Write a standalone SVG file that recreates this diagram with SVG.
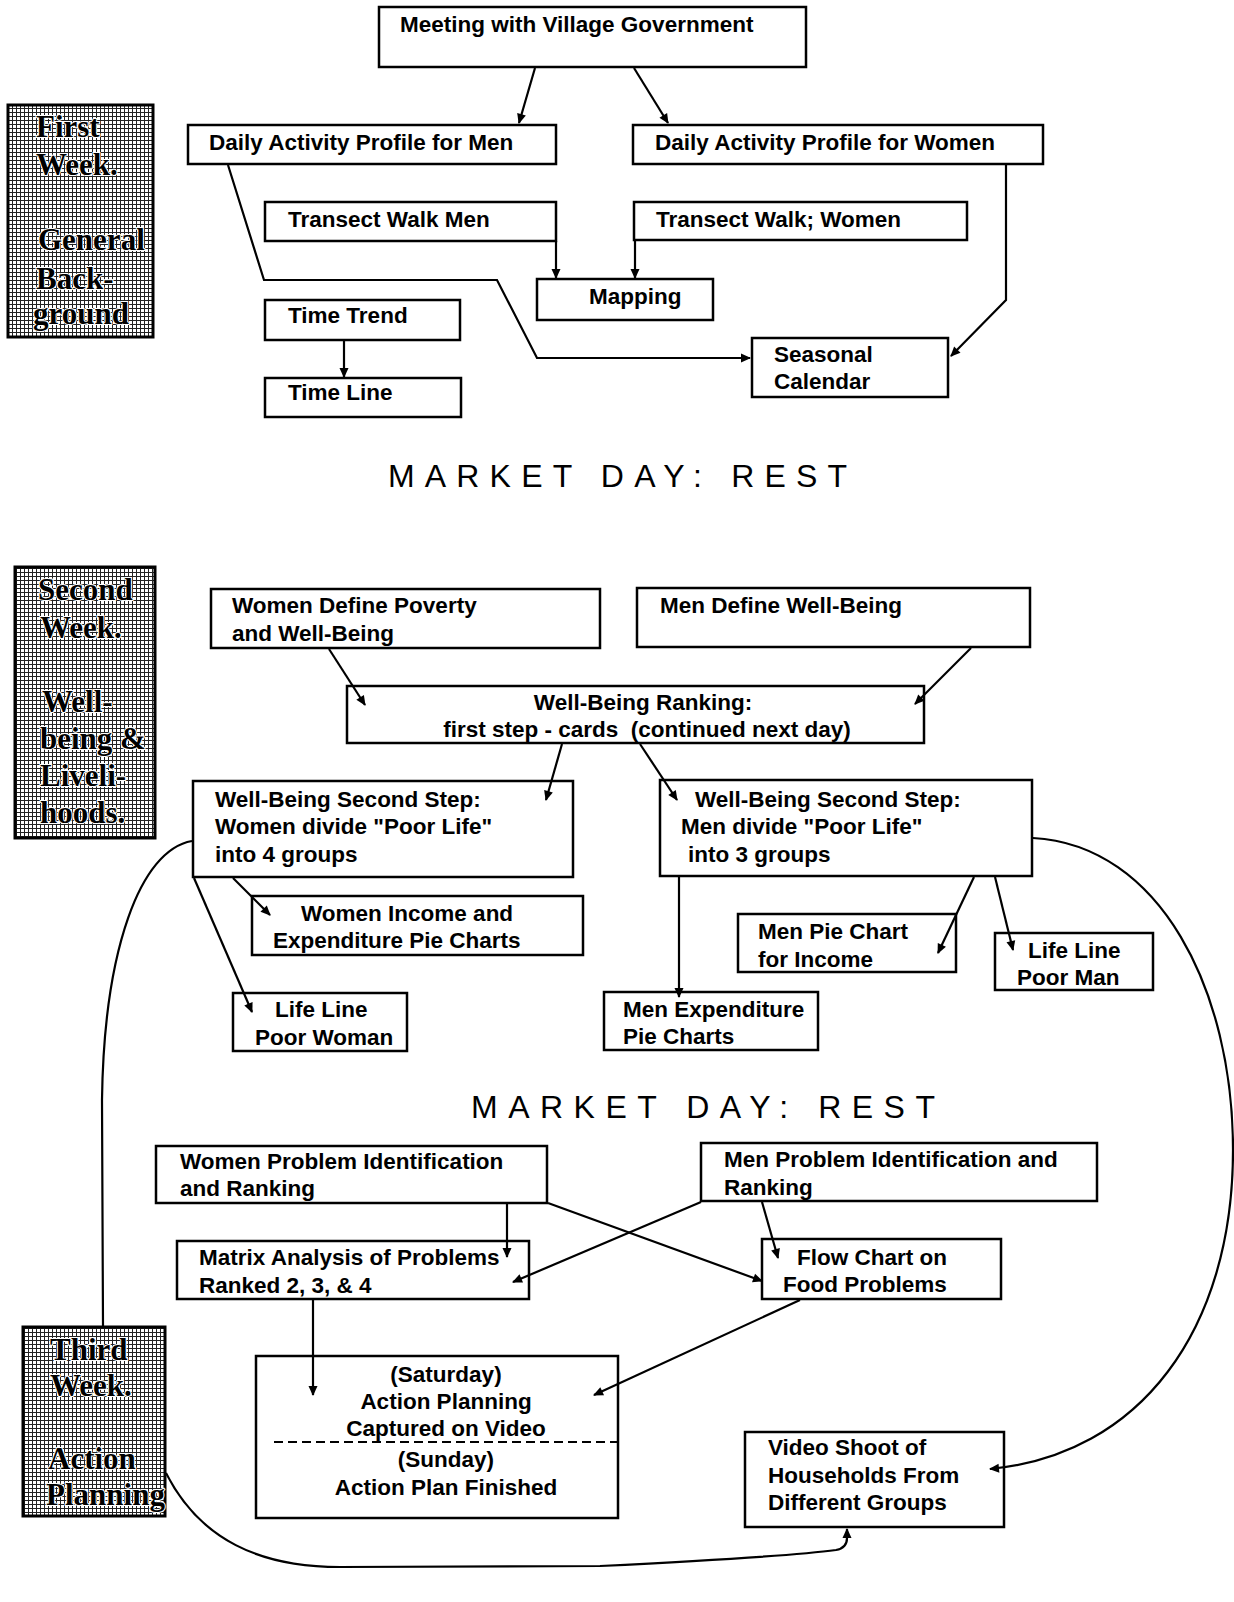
<svg xmlns="http://www.w3.org/2000/svg" width="1234" height="1602" viewBox="0 0 1234 1602">
  <defs>
    <style>
      .box { fill: #fff; stroke: #000; stroke-width: 2.5; }
      .t { font-family: "Liberation Sans", Arial, sans-serif; font-size: 22.5px; font-weight: bold; fill: #000; }
      .mid { text-anchor: middle; }
      .wk { fill: url(#dither); stroke: #000; stroke-width: 3; }
      .wt { font-family: "Liberation Serif", "Times New Roman", serif; font-size: 31px; font-weight: bold; fill: #000; stroke: #fff; stroke-width: 2; paint-order: stroke fill; }
      .rest { font-family: "Liberation Sans", Arial, sans-serif; font-size: 32px; fill: #000; }
      .c { fill: none; stroke: #000; stroke-width: 2.2; }
      .a { marker-end: url(#ah); }
    </style>
    <!-- halftone grid used for the week panels -->
    <pattern id="dither" width="4" height="4" patternUnits="userSpaceOnUse">
      <rect width="4" height="4" fill="#fff"/>
      <rect width="4" height="1" fill="#222" shape-rendering="crispEdges"/>
      <rect width="1" height="4" fill="#222" shape-rendering="crispEdges"/>
    </pattern>
    <marker id="ah" viewBox="0 0 10 10" refX="9" refY="5" markerWidth="12" markerHeight="10" markerUnits="userSpaceOnUse" orient="auto">
      <path d="M0,0.5 L10,5 L0,9.5 z" fill="#000"/>
    </marker>
  </defs>

  <!-- week labels -->
  <g id="week1">
    <rect class="wk" x="8" y="105" width="145" height="232"/>
    <text class="wt" x="36" y="137">First</text>
    <text class="wt" x="36" y="175">Week.</text>
    <text class="wt" x="38" y="250">General</text>
    <text class="wt" x="36" y="289">Back-</text>
    <text class="wt" x="33" y="324">ground</text>
  </g>
  <g id="week2">
    <rect class="wk" x="15" y="567" width="140" height="271"/>
    <text class="wt" x="38" y="600">Second</text>
    <text class="wt" x="40" y="638">Week.</text>
    <text class="wt" x="42" y="712">Well-</text>
    <text class="wt" x="40" y="749">being &amp;</text>
    <text class="wt" x="40" y="786">Liveli-</text>
    <text class="wt" x="40" y="823">hoods.</text>
  </g>
  <g id="week3">
    <rect class="wk" x="23" y="1327" width="142" height="189"/>
    <text class="wt" x="50" y="1360">Third</text>
    <text class="wt" x="50" y="1396">Week.</text>
    <text class="wt" x="48" y="1469">Action</text>
    <text class="wt" x="46" y="1505">Planning</text>
  </g>

  <!-- first week -->
  <g id="meeting">
    <rect class="box" x="379" y="7" width="427" height="60"/>
    <text class="t" x="400" y="32">Meeting with Village Government</text>
  </g>
  <g id="daily-men">
    <rect class="box" x="188" y="125" width="368" height="39"/>
    <text class="t" x="209" y="150">Daily Activity Profile for Men</text>
  </g>
  <g id="daily-women">
    <rect class="box" x="633" y="125" width="410" height="39"/>
    <text class="t" x="655" y="150">Daily Activity Profile for Women</text>
  </g>
  <g id="transect-men">
    <rect class="box" x="265" y="202" width="291" height="39"/>
    <text class="t" x="288" y="227">Transect Walk Men</text>
  </g>
  <g id="transect-women">
    <rect class="box" x="634" y="202" width="333" height="38"/>
    <text class="t" x="656" y="227">Transect Walk; Women</text>
  </g>
  <g id="mapping">
    <rect class="box" x="537" y="279" width="176" height="41"/>
    <text class="t" x="589" y="304">Mapping</text>
  </g>
  <g id="time-trend">
    <rect class="box" x="265" y="300" width="195" height="40"/>
    <text class="t" x="288" y="323">Time Trend</text>
  </g>
  <g id="time-line">
    <rect class="box" x="265" y="378" width="196" height="39"/>
    <text class="t" x="288" y="400">Time Line</text>
  </g>
  <g id="seasonal">
    <rect class="box" x="752" y="338" width="196" height="59"/>
    <text class="t" x="774" y="362">Seasonal</text>
    <text class="t" x="774" y="389">Calendar</text>
  </g>

  <text class="rest" x="388" y="487" textLength="459" lengthAdjust="spacing">MARKET DAY:  REST</text>

  <!-- second week -->
  <g id="women-define">
    <rect class="box" x="211" y="589" width="389" height="59"/>
    <text class="t" x="232" y="613">Women Define Poverty</text>
    <text class="t" x="232" y="641">and Well-Being</text>
  </g>
  <g id="men-define">
    <rect class="box" x="637" y="588" width="393" height="59"/>
    <text class="t" x="660" y="613">Men Define Well-Being</text>
  </g>
  <g id="ranking">
    <rect class="box" x="347" y="686" width="577" height="57"/>
    <text class="t mid" x="643" y="710">Well-Being Ranking:</text>
    <text class="t mid" x="647" y="737" xml:space="preserve">first step - cards  (continued next day)</text>
  </g>
  <g id="women-step2">
    <rect class="box" x="193" y="781" width="380" height="96"/>
    <text class="t" x="215" y="807">Well-Being Second Step:</text>
    <text class="t" x="215" y="834">Women divide "Poor Life"</text>
    <text class="t" x="215" y="862">into 4 groups</text>
  </g>
  <g id="men-step2">
    <rect class="box" x="660" y="780" width="372" height="96"/>
    <text class="t" x="695" y="807">Well-Being Second Step:</text>
    <text class="t" x="681" y="834">Men divide "Poor Life"</text>
    <text class="t" x="688" y="862">into 3 groups</text>
  </g>
  <g id="women-pie">
    <rect class="box" x="252" y="896" width="331" height="59"/>
    <text class="t" x="301" y="921">Women Income and</text>
    <text class="t" x="273" y="948">Expenditure Pie Charts</text>
  </g>
  <g id="lifeline-woman">
    <rect class="box" x="233" y="993" width="174" height="58"/>
    <text class="t" x="275" y="1017">Life Line</text>
    <text class="t" x="255" y="1045">Poor Woman</text>
  </g>
  <g id="men-pie-income">
    <rect class="box" x="738" y="914" width="218" height="58"/>
    <text class="t" x="758" y="939">Men Pie Chart</text>
    <text class="t" x="758" y="967">for Income</text>
  </g>
  <g id="men-expenditure">
    <rect class="box" x="604" y="992" width="214" height="58"/>
    <text class="t" x="623" y="1017">Men Expenditure</text>
    <text class="t" x="623" y="1044">Pie Charts</text>
  </g>
  <g id="lifeline-man">
    <rect class="box" x="995" y="933" width="158" height="57"/>
    <text class="t" x="1028" y="958">Life Line</text>
    <text class="t" x="1017" y="985">Poor Man</text>
  </g>

  <text class="rest" x="471" y="1118" textLength="464" lengthAdjust="spacing">MARKET DAY:  REST</text>

  <!-- third week -->
  <g id="women-problems">
    <rect class="box" x="156" y="1146" width="391" height="57"/>
    <text class="t" x="180" y="1169">Women Problem Identification</text>
    <text class="t" x="180" y="1196">and Ranking</text>
  </g>
  <g id="men-problems">
    <rect class="box" x="701" y="1143" width="396" height="58"/>
    <text class="t" x="724" y="1167">Men Problem Identification and</text>
    <text class="t" x="724" y="1195">Ranking</text>
  </g>
  <g id="matrix">
    <rect class="box" x="177" y="1241" width="352" height="58"/>
    <text class="t" x="199" y="1265">Matrix Analysis of Problems</text>
    <text class="t" x="199" y="1293">Ranked 2, 3, &amp; 4</text>
  </g>
  <g id="flow-chart">
    <rect class="box" x="762" y="1239" width="239" height="60"/>
    <text class="t" x="797" y="1265">Flow Chart on</text>
    <text class="t" x="783" y="1292">Food Problems</text>
  </g>
  <g id="action-planning">
    <rect class="box" x="256" y="1356" width="362" height="162"/>
    <text class="t mid" x="446" y="1382">(Saturday)</text>
    <text class="t mid" x="446" y="1409">Action Planning</text>
    <text class="t mid" x="446" y="1436">Captured on Video</text>
    <line x1="274" y1="1442" x2="617" y2="1442" stroke="#000" stroke-width="2.2" stroke-dasharray="9,5"/>
    <text class="t mid" x="446" y="1467">(Sunday)</text>
    <text class="t mid" x="446" y="1495">Action Plan Finished</text>
  </g>
  <g id="video-shoot">
    <rect class="box" x="745" y="1432" width="259" height="95"/>
    <text class="t" x="768" y="1455">Video Shoot of</text>
    <text class="t" x="768" y="1483">Households From</text>
    <text class="t" x="768" y="1510">Different Groups</text>
  </g>

  <!-- connectors -->
  <g id="connectors">
    <path class="c a" d="M535,68 L519,123"/>
    <path class="c a" d="M634,68 L668,123"/>
    <path class="c a" d="M228,165 L264,280 L497,280 L537,358 L750,358"/>
    <path class="c a" d="M1006,164 L1006,300 L951,356"/>
    <path class="c a" d="M556,241 L556,278"/>
    <path class="c a" d="M635,240 L635,278"/>
    <path class="c a" d="M344,340 L344,377"/>

    <path class="c a" d="M329,649 L365,705"/>
    <path class="c a" d="M971,648 L915,704"/>
    <path class="c a" d="M562,744 L546,800"/>
    <path class="c a" d="M640,744 L677,800"/>
    <path class="c a" d="M233,878 L270,915"/>
    <path class="c a" d="M194,878 L252,1012"/>
    <path class="c a" d="M679,877 L679,997"/>
    <path class="c a" d="M974,877 L938,953"/>
    <path class="c a" d="M995,877 L1013,950"/>
    <path class="c" d="M192,841 C140,850 104,950 102,1100 L103,1327"/>
    <path class="c a" d="M1033,838 C1160,845 1233,990 1233,1150 C1233,1330 1140,1455 990,1469"/>

    <path class="c a" d="M507,1204 L507,1257"/>
    <path class="c a" d="M548,1203 L762,1281"/>
    <path class="c a" d="M701,1202 L513,1282"/>
    <path class="c a" d="M762,1202 L778,1258"/>
    <path class="c a" d="M313,1299 L313,1395"/>
    <path class="c a" d="M800,1300 L594,1395"/>
    <path class="c a" d="M166,1473 C200,1540 260,1567 340,1567 L600,1566 C720,1560 800,1555 836,1550 Q847,1548 847,1538 L847,1529"/>
  </g>
</svg>
